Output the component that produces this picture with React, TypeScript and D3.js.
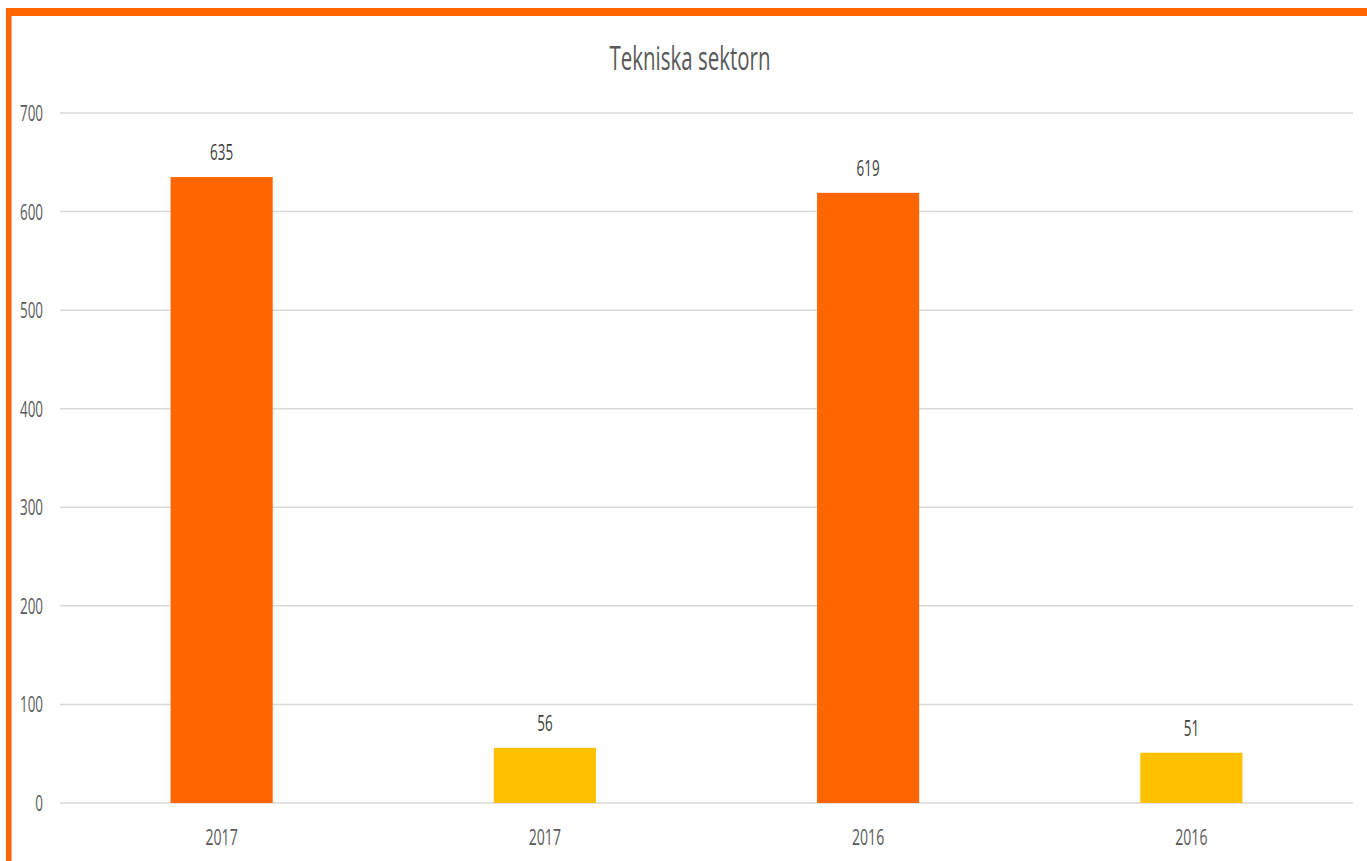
import React from "react";
import * as d3 from "d3";

const categories = ["2017", "2017", "2016", "2016"];
const values = [635, 56, 619, 51];
const barColors = ["#FF6600", "#FFC000", "#FF6600", "#FFC000"];
const yTicks = [0, 100, 200, 300, 400, 500, 600, 700];
const title = "Tekniska sektorn";

const W = 1367;
const H = 861;
const FONT = "'Open Sans', sans-serif";
const SX = 0.64;

function T({ x, y, size, fill = "#595959", anchor = "middle", children }: any) {
  return (
    <text
      transform={`translate(${x},${y}) scale(${SX},1)`}
      textAnchor={anchor}
      fontSize={size}
      fill={fill}
    >
      {children}
    </text>
  );
}

export default function App() {
  const left = 60;
  const right = 1353;
  const top = 113;
  const bottom = 803;

  const idx = categories.map((_, i) => i);
  const x = d3
    .scaleBand<number>()
    .domain(idx)
    .range([left, right])
    .paddingInner(0.684)
    .paddingOuter(0.342);
  const y = d3.scaleLinear().domain([0, 700]).range([bottom, top]);
  const band = d3.scaleBand<number>().domain(idx).range([left, right]);

  return (
    <svg
      width={W}
      height={H}
      style={{ position: "absolute", left: 0, top: 0, background: "#fff", overflow: "hidden" }}
      fontFamily={FONT}
    >
      <rect x={0} y={0} width={W} height={H} fill="#fff" />
      <rect x={6} y={8} width={W - 6} height={8} fill="#FF6600" />
      <rect x={6} y={8} width={5.5} height={H - 8} fill="#FF6600" />
      <T x={690} y={70} size={32}>
        {title}
      </T>
      {yTicks.map((t) => (
        <g key={t}>
          <line x1={left} x2={right} y1={y(t)} y2={y(t)} stroke="#d9d9d9" strokeWidth={1.5} />
          <T x={43} y={y(t) + 8} size={21} anchor="end">
            {t}
          </T>
        </g>
      ))}
      {values.map((v, i) => (
        <g key={i}>
          <rect x={x(i)} y={y(v)} width={x.bandwidth()} height={y(0) - y(v)} fill={barColors[i]} />
          <T x={(x(i) as number) + x.bandwidth() / 2} y={y(v) - 17} size={21} fill="#404040">
            {v}
          </T>
          <T x={(band(i) as number) + band.bandwidth() / 2} y={845} size={22}>
            {categories[i]}
          </T>
        </g>
      ))}
    </svg>
  );
}
